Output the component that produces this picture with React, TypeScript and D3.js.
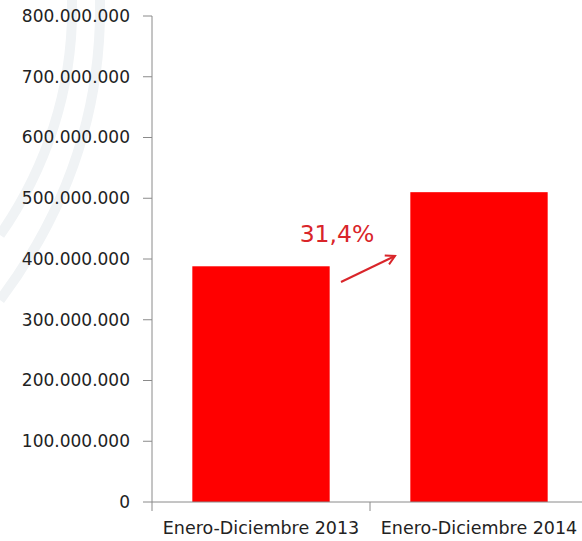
import React from "react";
import * as d3 from "d3";

const categories = ["Enero-Diciembre 2013", "Enero-Diciembre 2014"];
const values = [388000000, 510000000];
const yTicks = [0, 100000000, 200000000, 300000000, 400000000, 500000000, 600000000, 700000000, 800000000];
const changeLabel = "31,4%";

const W = 582;
const H = 541;

export default function App() {
  const x = d3.scaleBand<string>().domain(categories).range([152, 588]).paddingInner(0.37).paddingOuter(0.185);
  const y = d3.scaleLinear().domain([0, 800000000]).range([502, 16]);
  const fmt = (v: number) => d3.format(",")(v).replace(/,/g, ".");
  const font = "'DejaVu Sans', Verdana, sans-serif";
  const bandX = d3.scaleBand<string>().domain(categories).range([152, 588]);

  return (
    <svg width={W} height={H} style={{ position: "absolute", left: 0, top: 0, background: "#fff" }}>
      <defs>
        <marker id="ah" markerWidth="12" markerHeight="12" refX="10" refY="6" orient="auto" markerUnits="userSpaceOnUse">
          <path d="M1,1 L10,6 L1,11" fill="none" stroke="#d9252a" strokeWidth={2} />
        </marker>
      </defs>
      {/* faint background arcs */}
      <path d="M100,0 C102,120 60,220 0,300" fill="none" stroke="#f0f3f5" strokeWidth={10} />
      <path d="M72,0 C74,90 45,170 0,235" fill="none" stroke="#f0f3f5" strokeWidth={10} />
      {/* bars */}
      {categories.map((c, i) => (
        <rect key={c} x={x(c)} y={y(values[i])} width={x.bandwidth()} height={y(0) - y(values[i])} fill="#ff0000" />
      ))}
      {/* y axis */}
      <line x1={152} x2={152} y1={y(800000000)} y2={y(0)} stroke="#8a8a8a" strokeWidth={1} />
      {yTicks.map((t) => (
        <g key={t}>
          <line x1={143} x2={152} y1={y(t)} y2={y(t)} stroke="#8a8a8a" />
          <text x={130} y={y(t)} dy="0.35em" textAnchor="end" fontFamily={font} fontSize={17} fill="#222">
            {fmt(t)}
          </text>
        </g>
      ))}
      {/* x axis */}
      <line x1={152} x2={582} y1={y(0)} y2={y(0)} stroke="#8a8a8a" />
      {categories.map((c, i) =>
        i > 0 ? (
          <line key={"t" + c} x1={bandX(c)} x2={bandX(c)} y1={y(0)} y2={y(0) + 9} stroke="#8a8a8a" />
        ) : null
      )}
      <line x1={152} x2={152} y1={y(0)} y2={y(0) + 9} stroke="#8a8a8a" />
      {categories.map((c) => (
        <text key={"l" + c} x={x(c)! + x.bandwidth() / 2} y={534} textAnchor="middle" fontFamily={font} fontSize={17.5} fill="#222">
          {c}
        </text>
      ))}
      {/* change annotation */}
      <text x={337} y={242} textAnchor="middle" fontFamily={font} fontSize={23.5} fill="#d9252a">
        {changeLabel}
      </text>
      <line x1={341} y1={282} x2={395} y2={256} stroke="#d9252a" strokeWidth={2} markerEnd="url(#ah)" />
    </svg>
  );
}
